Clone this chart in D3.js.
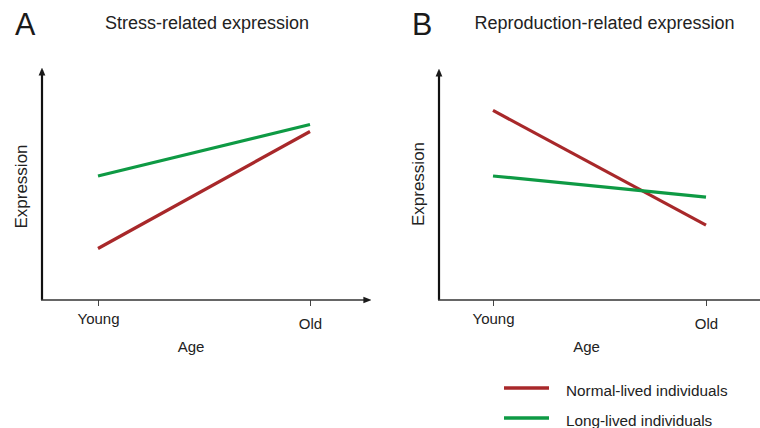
<!DOCTYPE html>
<html>
<head>
<meta charset="utf-8">
<script src="https://cdn.jsdelivr.net/npm/d3@7/dist/d3.min.js"></script>
<style>
  html, body { margin: 0; padding: 0; background: #fff; }
  svg { display: block; font-family: "Liberation Sans", Arial, Helvetica, sans-serif; }
</style>
</head>
<body>
<svg id="chart" width="760" height="428"></svg>
<script>
// ---- data ----
const ages = ["Young", "Old"];
const seriesNames = ["Normal-lived individuals", "Long-lived individuals"];
const seriesColors = ["#a8282a", "#0e9a44"];
const panelLetters = ["A", "B"];
const panelTitles = ["Stress-related expression", "Reproduction-related expression"];
// values on an arbitrary 0-10 expression scale, [Young, Old]
const stressNormal = [2.2, 7.2];
const stressLong = [5.3, 7.5];
const reproNormal = [8.1, 3.2];
const reproLong = [5.3, 4.4];

const panelData = [
  [stressNormal, stressLong],
  [reproNormal, reproLong]
];

const svg = d3.select("#chart");

const defs = svg.append("defs");
defs.append("marker")
  .attr("id", "arrow")
  .attr("viewBox", "0 0 10 10")
  .attr("refX", 7).attr("refY", 5)
  .attr("markerWidth", 8).attr("markerHeight", 8)
  .attr("markerUnits", "userSpaceOnUse")
  .attr("orient", "auto")
  .append("path")
  .attr("d", "M0,0.8 L10,5 L0,9.2 Z")
  .attr("fill", "#1a1a1a");

const panels = [
  { axisX: 42, tickX: [98, 310], axisEnd: 369, arrowTop: 70 },
  { axisX: 439, tickX: [493, 706], axisEnd: 772, arrowTop: 71 }
];
const baseY = 300;

panels.forEach((p, i) => {
  const g = svg.append("g");
  const x = d3.scalePoint().domain(ages).range(p.tickX);
  const y = d3.scaleLinear().domain([0, 10]).range([baseY, 66]);

  // panel letter
  g.append("text")
    .attr("x", p.axisX - 27).attr("y", 35)
    .attr("font-size", 30.5)
    .attr("fill", "#1a1a1a")
    .text(panelLetters[i]);

  // panel title
  g.append("text")
    .attr("x", (p.tickX[0] + p.tickX[1]) / 2 + (i === 0 ? 3 : 5))
    .attr("y", 29)
    .attr("text-anchor", "middle")
    .attr("font-size", 18)
    .attr("fill", "#222")
    .text(panelTitles[i]);

  // x axis ticks and labels
  const xAxis = d3.axisBottom(x).tickSize(6).tickPadding(7);
  const ax = g.append("g")
    .attr("transform", `translate(0,${baseY})`)
    .call(xAxis);
  ax.select(".domain").remove();
  ax.selectAll(".tick line").attr("stroke", "#444").attr("stroke-width", 1);
  ax.selectAll(".tick text")
    .attr("font-size", 15)
    .attr("font-family", "Liberation Sans, Arial, sans-serif")
    .attr("fill", "#222")
    .attr("dy", d => d === "Old" ? "1.05em" : "0.75em");

  // axes lines with arrows
  g.append("line")
    .attr("x1", p.axisX).attr("y1", baseY)
    .attr("x2", p.axisX).attr("y2", p.arrowTop)
    .attr("stroke", "#111").attr("stroke-width", 2.2)
    .attr("marker-end", "url(#arrow)");
  g.append("line")
    .attr("x1", p.axisX - 1).attr("y1", baseY)
    .attr("x2", p.axisEnd).attr("y2", baseY)
    .attr("stroke", "#333").attr("stroke-width", 1.6)
    .attr("marker-end", "url(#arrow)");

  // axis titles
  g.append("text")
    .attr("x", (p.tickX[0] + p.tickX[1]) / 2 - 13)
    .attr("y", 352)
    .attr("text-anchor", "middle")
    .attr("font-size", 15)
    .attr("fill", "#222")
    .text("Age");
  g.append("text")
    .attr("transform", `translate(${p.axisX - 15},${i === 0 ? 186.5 : 184}) rotate(-90)`)
    .attr("text-anchor", "middle")
    .attr("font-size", 17)
    .attr("fill", "#222")
    .text("Expression");

  // series lines
  const line = d3.line().x((d, k) => x(ages[k])).y(d => y(d));
  panelData[i].forEach((vals, s) => {
    g.append("path")
      .datum(vals)
      .attr("d", line)
      .attr("fill", "none")
      .attr("stroke", seriesColors[s])
      .attr("stroke-width", 3.2);
  });
});

// legend
const legend = svg.append("g").attr("transform", "translate(504,388)");
seriesNames.forEach((name, s) => {
  const row = legend.append("g").attr("transform", `translate(0,${s * 30})`);
  row.append("line")
    .attr("x1", 0).attr("x2", 45)
    .attr("y1", 0).attr("y2", 0)
    .attr("stroke", seriesColors[s]).attr("stroke-width", 3.4);
  row.append("text")
    .attr("x", 62).attr("y", 8)
    .attr("font-size", 15.3)
    .attr("fill", "#222")
    .text(name);
});
</script>
</body>
</html>
